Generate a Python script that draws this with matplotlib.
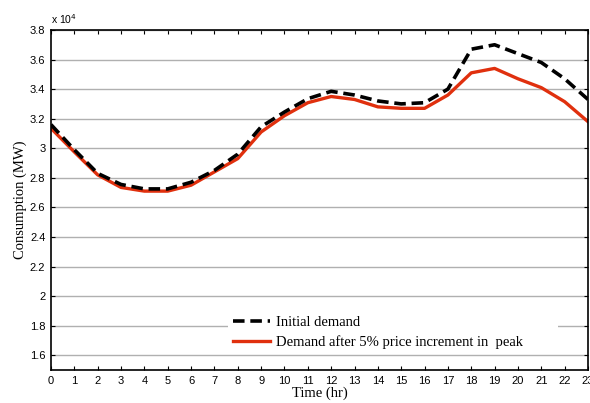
import matplotlib
matplotlib.use("Agg")
import matplotlib.pyplot as plt
from matplotlib.ticker import FuncFormatter, MultipleLocator

hours = list(range(24))
initial_demand = [31600, 29900, 28300, 27550, 27250, 27250, 27700, 28500, 29600, 31450,
                  32450, 33350, 33850, 33600, 33200, 33000, 33080, 34000, 36700, 37000,
                  36400, 35800, 34700, 33300]
demand_after = [31350, 29750, 28200, 27350, 27100, 27100, 27500, 28400, 29300, 31100,
                32200, 33080, 33500, 33300, 32800, 32700, 32700, 33600, 35100, 35400,
                34700, 34100, 33150, 31800]

sans = "Liberation Sans"
serif = "Liberation Serif"

fig = plt.figure(figsize=(5.9, 4.03), dpi=100)
ax = fig.add_axes([0.0864, 0.0819, 0.9102, 0.8437])

ax.plot(hours, initial_demand, color="black", lw=2.6, dashes=(3.2, 1.6),
        label="Initial demand", zorder=3)
ax.plot(hours, demand_after, color="#e0300e", lw=2.4,
        label="Demand after 5% price increment in  peak", zorder=2)

ax.set_xlim(0, 23)
ax.set_ylim(15000, 38000)
ax.xaxis.set_major_locator(MultipleLocator(1))
ax.yaxis.set_major_locator(MultipleLocator(2000))
ax.yaxis.set_major_formatter(FuncFormatter(lambda v, p: f"{v/1e4:g}"))
ax.grid(axis="y", color="#b0b0b0", lw=1.0)
ax.set_axisbelow(True)
ax.tick_params(direction="in", length=3, width=0.8, top=True, right=True,
               labelsize=8, pad=4)
for lab in ax.get_xticklabels() + ax.get_yticklabels():
    lab.set_fontfamily(sans)
for s in ax.spines.values():
    s.set_linewidth(1.2)

ax.text(0.0, 1.012, "x 10$^4$", transform=ax.transAxes, fontsize=7.5,
        family=sans, ha="left", va="bottom")

ax.set_xlabel("Time (hr)", family=serif, fontsize=10.5, labelpad=1)
ax.set_ylabel("Consumption (MW)", family=serif, fontsize=10.5, labelpad=2)

# white box without border, stretched to the right like the original
leg = ax.legend(loc="lower left", bbox_to_anchor=(0.33, 0.05, 0.614, 0.2),
                mode="expand", prop={"family": serif, "size": 10.5}, frameon=True,
                fancybox=False, edgecolor="white", framealpha=1.0,
                handlelength=2.6, handletextpad=0.35, labelspacing=0.4,
                borderpad=0.3, borderaxespad=0)
leg.get_frame().set_linewidth(0)

fig.savefig("out.png", dpi=100)
